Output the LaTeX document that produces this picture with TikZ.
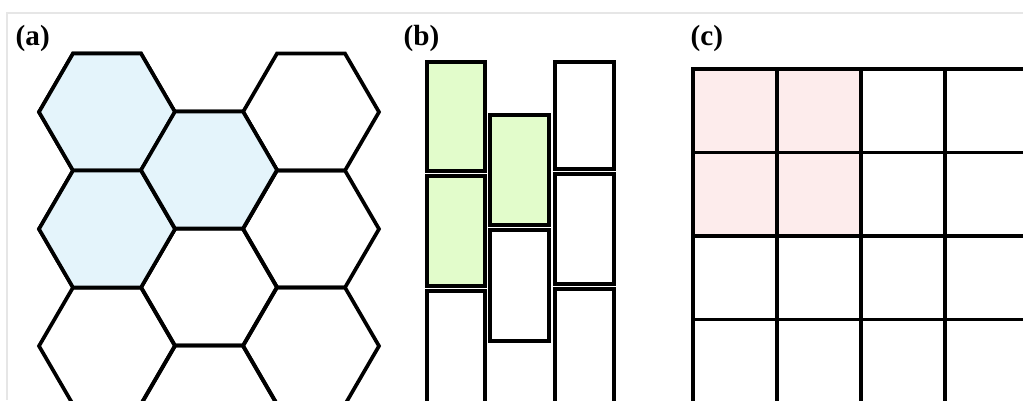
\documentclass[tikz,border=0pt]{standalone}
\usepackage{fontspec}
\setmainfont{Liberation Serif}
\usepackage{tikz}

\definecolor{hexblue}{HTML}{E4F4FB}
\definecolor{brickgreen}{HTML}{E2FCCB}
\definecolor{gridpink}{HTML}{FDECEC}
\definecolor{framegray}{HTML}{E6E6E6}

\begin{document}
\begin{tikzpicture}[x=0.1mm,y=-0.1mm,
	cell/.style={draw=black,line width=1.05pt,line join=miter},
	panel/.style={anchor=base west,inner sep=0pt,font=\fontsize{8.3}{10}\selectfont\bfseries}]
	\useasboundingbox (0,0) rectangle (1023,400);
	\fill[white] (0,0) rectangle (1023,400);
	\draw[framegray,line width=0.6pt] (7,400) |- (1023,13);

	% hexagonal cells, flat top, side 68
	\foreach \c / \x / \yo in {0/107/112,1/209/170,2/311/112} {
		\foreach \r in {0,1,2} {
			\pgfmathsetmacro{\y}{\yo+117*\r}
			\path[cell] (\x-68,\y) -- (\x-34,\y-58.5) -- (\x+34,\y-58.5)
				-- (\x+68,\y) -- (\x+34,\y+58.5) -- (\x-34,\y+58.5) -- cycle;
		}
	}
	\foreach \x / \y in {107/112,107/229,209/170} {
		\path[cell,fill=hexblue] (\x-68,\y) -- (\x-34,\y-58.5) -- (\x+34,\y-58.5)
			-- (\x+68,\y) -- (\x+34,\y+58.5) -- (\x-34,\y+58.5) -- cycle;
	}
	\node[panel] (la) at (15,45) {(a)};

	% bricks, three staggered columns
	\foreach \xl / \xr / \yt / \yb / \col in {427/485/62/171/brickgreen,427/485/176/286/brickgreen,
		427/485/291/420/white,490/549/115/225/brickgreen,490/549/230/341/white,
		555/614/62/169/white,555/614/174/284/white,555/614/289/420/white} {
		\path[cell,fill=\col] (\xl,\yt) rectangle (\xr,\yb);
	}
	\node[panel] (lb) at (403,45) {(b)};

	% square grid
	\foreach \i in {0,...,3} {
		\foreach \j in {0,...,3} {
			\path[cell] (693+84*\i,69+83.5*\j) rectangle ++(84,83.5);
		}
	}
	\foreach \i / \j in {0/0,1/0,0/1,1/1} {
		\path[cell,fill=gridpink] (693+84*\i,69+83.5*\j) rectangle ++(84,83.5);
	}
	\node[panel] (lc) at (690,45) {(c)};
\end{tikzpicture}
\end{document}
